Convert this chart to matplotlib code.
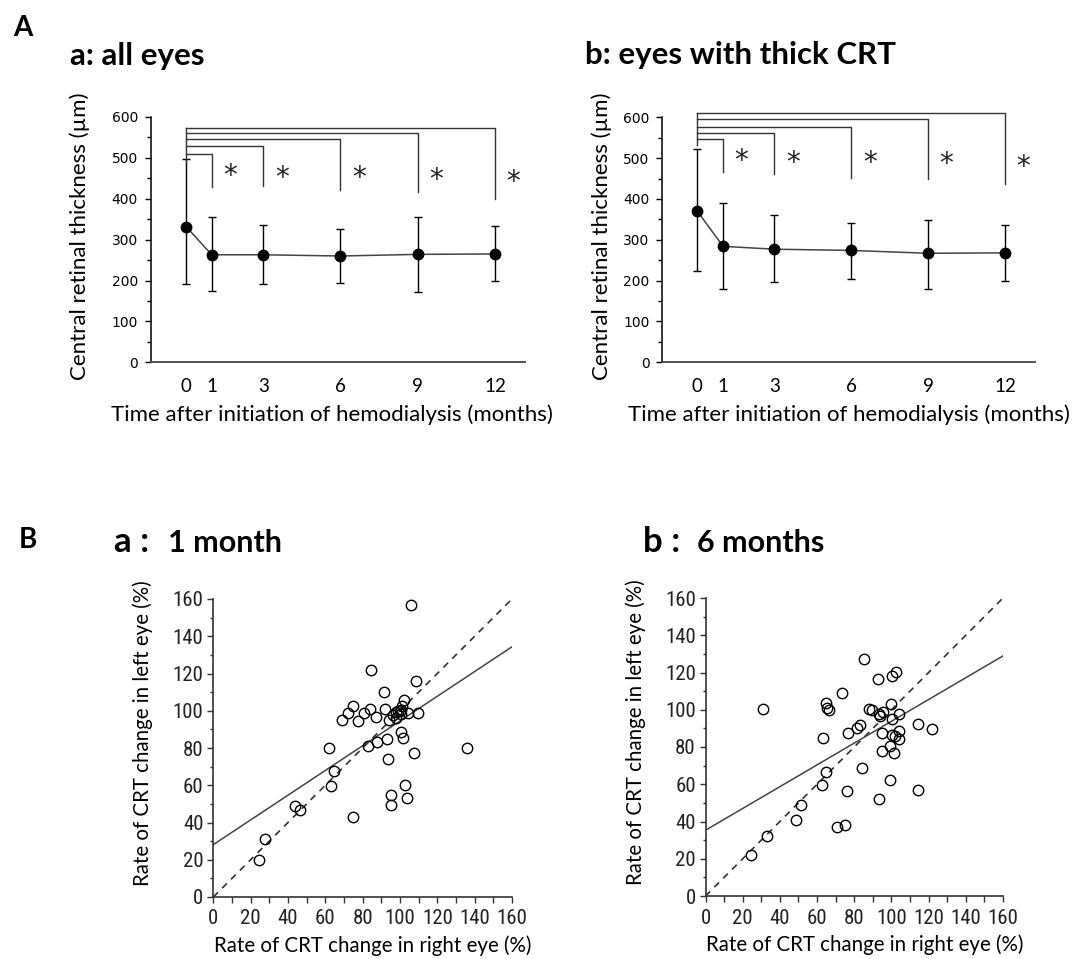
import numpy as np
import matplotlib.pyplot as plt
from matplotlib import font_manager
from matplotlib.ticker import MultipleLocator
from matplotlib.transforms import ScaledTranslation

# ---- data ----
months = [0, 1, 3, 6, 9, 12]
month_labels = ['0', '1', '3', '6', '9', '12']

# A a: all eyes (mean, upper and lower end of error bar)
all_mean = [332, 263, 263, 260, 264, 265]
all_hi = [497, 356, 337, 325, 356, 333]
all_lo = [191, 175, 191, 195, 172, 199]

# A b: eyes with thick CRT
thick_mean = [370, 284, 277, 274, 267, 268]
thick_hi = [522, 390, 360, 342, 349, 337]
thick_lo = [224, 180, 196, 204, 180, 200]

# significance brackets, baseline vs 1/3/6/9/12 months
all_br_top = [510, 530, 545, 561, 574]
all_br_leg = [430, 431, 421, 416, 399]
all_star_y = [474, 470, 470, 466, 460]
thick_br_top = [546, 562, 576, 597, 610]
thick_br_leg = [465, 462, 451, 449, 436]
thick_star_y = [512, 508, 508, 505, 497]

# B a: 1 month, right eye vs left eye (%)
m1_right = [105.8, 84.4, 108.4, 91.3, 102.4, 74.9, 72.2, 68.9, 77.4, 80.8,
            83.8, 87.0, 91.9, 94.0, 96.3, 97.7, 99.9, 100.8, 100.6, 101.3,
            104.5, 109.5, 100.6, 101.5, 93.3, 87.9, 82.9, 62.1, 107.6, 135.9,
            93.8, 64.6, 63.0, 102.7, 103.5, 95.3, 95.3, 43.9, 46.7, 74.6,
            27.6, 24.3, 99.0, 98.0]
m1_left = [156.8, 122.1, 116.2, 110.3, 105.8, 102.3, 98.9, 95.3, 94.7, 98.9,
           100.8, 96.4, 100.8, 95.3, 97.8, 96.0, 99.6, 98.3, 100.5, 102.4,
           98.9, 98.9, 88.7, 85.6, 84.9, 83.3, 81.3, 80.1, 77.4, 80.1,
           74.2, 67.8, 59.5, 60.2, 53.3, 54.5, 49.5, 48.8, 46.7, 42.7,
           31.3, 19.8, 100.0, 99.2]
m1_fit = (28.1, 0.664)   # intercept, slope of the solid regression line

# B b: 6 months
m6_right = [30.7, 85.1, 102.4, 100.3, 93.0, 73.3, 64.7, 66.3, 65.6, 88.0,
            89.6, 93.1, 93.9, 95.6, 99.6, 103.9, 100.3, 83.3, 81.5, 76.9,
            94.9, 100.5, 101.9, 104.0, 104.2, 114.1, 121.9, 63.1, 99.0, 94.9,
            101.5, 84.0, 64.7, 62.7, 99.4, 76.3, 114.1, 93.5, 51.5, 48.6,
            70.8, 74.9, 33.1, 24.5]
m6_left = [100.2, 127.1, 120.4, 118.3, 116.7, 109.0, 103.8, 99.7, 100.9, 100.6,
           99.7, 97.5, 96.8, 98.8, 103.1, 97.9, 95.2, 92.0, 90.4, 87.7,
           87.7, 86.4, 85.9, 88.6, 84.1, 92.5, 89.8, 84.8, 80.5, 77.7,
           77.0, 68.9, 66.6, 59.6, 62.3, 56.2, 56.7, 51.9, 48.7, 40.8,
           37.0, 37.9, 32.0, 21.8]
m6_fit = (35.3, 0.585)

LABEL_FONT = ['Lato', 'DejaVu Sans']

# narrow font for the scatter tick labels, if one is installed
_fonts = font_manager.fontManager.ttflist
_names = {f.name for f in _fonts}
NARROW = dict(family='Liberation Sans', fontsize=13)
for cand in ['Liberation Sans Narrow', 'Roboto Condensed', 'Open Sans Condensed']:
    if cand in _names:
        NARROW = dict(family=cand, fontsize=15)
        break
else:
    if any(f.name == 'DejaVu Sans' and f.stretch == 'condensed' for f in _fonts):
        NARROW = dict(family='DejaVu Sans', fontstretch='condensed', fontsize=13.5)

W, H = 1083, 959
fig = plt.figure(figsize=(W / 100, H / 100), dpi=100)


def add_axes_px(x0, x1, y_top, y_bot):
    return fig.add_axes([x0 / W, 1 - y_bot / H, (x1 - x0) / W, (y_bot - y_top) / H])


def fig_text(x, y, s, **kw):
    fig.text(x / W, 1 - y / H, s, va='baseline', family=LABEL_FONT, **kw)


def time_panel(ax, mean, hi, lo, br_top, br_leg, stem_bottom, star_y):
    mean = np.array(mean)
    yerr = [mean - np.array(lo), np.array(hi) - mean]
    ax.errorbar(months, mean, yerr=yerr, fmt='-', color='#444444', lw=1.1,
                ecolor='black', elinewidth=1.0, capsize=2.6, capthick=1.0, zorder=2)
    ax.plot(months, mean, 'o', color='black', ms=7.5, zorder=3)

    # brackets from baseline to each follow-up month
    ax.plot([0, 0], [stem_bottom, max(br_top)], color='#333333', lw=1.0, clip_on=False)
    for m, top, leg, sy in zip(months[1:], br_top, br_leg, star_y):
        ax.plot([0, m, m], [top, top, leg], color='#333333', lw=1.0, clip_on=False)
        ax.text(m + 0.72, sy - 39, '*', ha='center', va='baseline', fontsize=20,
                family='DejaVu Sans', color='#222222', clip_on=False)

    ax.set_xlim(-1.38, 13.17)
    ax.set_ylim(0, 600)
    for side in ['top', 'right']:
        ax.spines[side].set_visible(False)
    ax.spines['left'].set_linewidth(1.1)
    ax.spines['bottom'].set_linewidth(1.3)
    ax.spines['bottom'].set_color('#444444')
    ax.set_xticks(months)
    ax.set_xticklabels(month_labels, family=LABEL_FONT, fontsize=13.5)
    shift = ScaledTranslation(5 / 100, 0, fig.dpi_scale_trans)
    for lab in ax.get_xticklabels():
        lab.set_transform(lab.get_transform() + shift)
    ax.tick_params(axis='x', length=0, pad=11)
    ax.yaxis.set_major_locator(MultipleLocator(100))
    ax.yaxis.set_minor_locator(MultipleLocator(50))
    ax.tick_params(axis='y', which='major', length=4, width=1, pad=5, labelsize=10)
    ax.tick_params(axis='y', which='minor', length=3, width=1)
    ax.set_ylabel('Central retinal thickness (µm)', family=LABEL_FONT, fontsize=16,
                  va='center')
    ax.set_xlabel('Time after initiation of hemodialysis (months)', family=LABEL_FONT,
                  fontsize=16, va='center')


def scatter_panel(ax, right, left, fit):
    ax.plot([0, 160], [0, 160], linestyle=(0, (4, 3.5)), color='#333333', lw=1.2)
    xs = np.array([0, 160])
    ax.plot(xs, fit[0] + fit[1] * xs, color='#444444', lw=1.1)
    ax.plot(right, left, 'o', mfc='none', mec='black', mew=1.0, ms=7.5)
    ax.set_xlim(0, 160)
    ax.set_ylim(0, 160)
    for side in ['top', 'right']:
        ax.spines[side].set_visible(False)
    for side in ['left', 'bottom']:
        ax.spines[side].set_linewidth(1.2)
        ax.spines[side].set_color('#333333')
    ax.xaxis.set_major_locator(MultipleLocator(20))
    ax.xaxis.set_minor_locator(MultipleLocator(10))
    ax.yaxis.set_major_locator(MultipleLocator(20))
    ax.yaxis.set_minor_locator(MultipleLocator(10))
    ax.tick_params(which='both', length=4, width=1, color='#333333')
    ax.tick_params(axis='y', which='minor', length=2)
    ax.tick_params(axis='x', pad=5)
    ax.tick_params(axis='y', pad=3)
    for lab in ax.get_xticklabels() + ax.get_yticklabels():
        lab.set(color='#222222', **NARROW)
    ax.set_xlabel('Rate of CRT change in right eye (%)', family=LABEL_FONT,
                  fontsize=14.8, va='center')
    ax.set_ylabel('Rate of CRT change in left eye (%)', family=LABEL_FONT,
                  fontsize=14.8, va='center')


# ---- A ----
ax_a = add_axes_px(150.5, 525, 117, 362.3)
time_panel(ax_a, all_mean, all_hi, all_lo, all_br_top, all_br_leg, 487, all_star_y)
ax_a.yaxis.set_label_coords(-0.188, 0.515)
ax_a.xaxis.set_label_coords(0.485, -0.215)

ax_b = add_axes_px(662, 1035, 117.3, 362.3)
time_panel(ax_b, thick_mean, thick_hi, thick_lo, thick_br_top, thick_br_leg, 532, thick_star_y)
ax_b.yaxis.set_label_coords(-0.161, 0.515)
ax_b.xaxis.set_label_coords(0.501, -0.215)

fig_text(13, 36, 'A', fontsize=20, fontweight='bold')
fig_text(70, 65, 'a: all eyes', fontsize=22.5, fontweight='bold')
fig_text(585, 64, 'b: eyes with thick CRT', fontsize=22.5, fontweight='bold')

# ---- B ----
ax_c = add_axes_px(213.3, 512, 599, 897)
scatter_panel(ax_c, m1_right, m1_left, m1_fit)
ax_c.yaxis.set_label_coords(-0.235, 0.55)
ax_c.xaxis.set_label_coords(0.533, -0.165)

ax_d = add_axes_px(705.5, 1003, 598, 896)
scatter_panel(ax_d, m6_right, m6_left, m6_fit)
ax_d.yaxis.set_label_coords(-0.235, 0.55)
ax_d.xaxis.set_label_coords(0.536, -0.165)

fig_text(19, 548, 'B', fontsize=20, fontweight='bold')
fig_text(114, 552, 'a :', fontsize=25, fontweight='bold')
fig_text(168, 552, '1 month', fontsize=22, fontweight='bold')
fig_text(643, 552, 'b :', fontsize=25, fontweight='bold')
fig_text(697, 552, '6 months', fontsize=22, fontweight='bold')

fig.savefig('out.png', dpi=100)
